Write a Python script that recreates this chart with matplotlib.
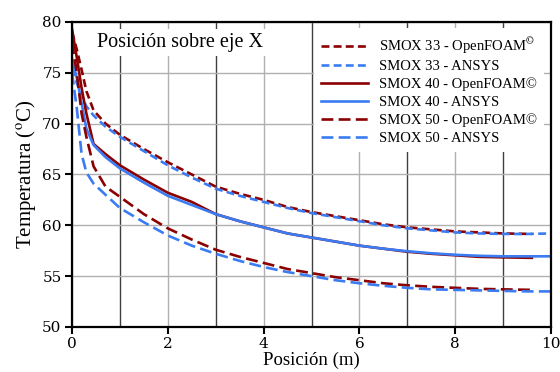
import numpy as np
import matplotlib
matplotlib.use("Agg")
import matplotlib.pyplot as plt
from matplotlib.ticker import MultipleLocator

# posiciones (m)
x_openfoam = [0, 0.1, 0.2, 0.3, 0.45, 0.7, 1.0, 1.5, 2.0, 2.5, 3.0, 3.5, 4.0, 4.5,
              5.0, 5.5, 6.0, 6.5, 7.0, 7.5, 8.0, 8.5, 9.0, 9.6]
x_ansys = [0, 0.1, 0.2, 0.3, 0.45, 0.7, 1.0, 1.5, 2.0, 2.5, 3.0, 3.5, 4.0, 4.5,
           5.0, 5.5, 6.0, 6.5, 7.0, 7.5, 8.0, 8.5, 9.0, 9.5, 10.0]

# temperaturas (C)
smox33_of = [79.0, 77.3, 75.3, 73.2, 71.3, 70.0, 68.9, 67.5, 66.2, 65.0, 63.8, 63.1,
             62.5, 61.8, 61.3, 60.9, 60.5, 60.1, 59.8, 59.6, 59.4, 59.3, 59.2, 59.15]
smox33_an = [75.4, 74.0, 72.7, 71.7, 70.8, 69.7, 68.7, 67.3, 65.9, 64.7, 63.6, 62.9,
             62.3, 61.7, 61.2, 60.8, 60.4, 60.0, 59.7, 59.5, 59.3, 59.2, 59.15, 59.15, 59.2]
smox40_of = [79.3, 76.5, 73.5, 71.0, 68.0, 67.0, 65.9, 64.5, 63.2, 62.3, 61.1, 60.4,
             59.8, 59.2, 58.8, 58.4, 58.0, 57.7, 57.4, 57.2, 57.05, 56.9, 56.85, 56.8]
smox40_an = [76.4, 74.5, 72.0, 69.5, 67.9, 66.7, 65.6, 64.2, 62.9, 62.0, 61.1, 60.4,
             59.8, 59.2, 58.8, 58.4, 58.0, 57.7, 57.45, 57.25, 57.1, 57.0, 56.95, 56.95, 56.95]
smox50_of = [78.0, 75.0, 71.0, 68.7, 65.8, 63.8, 62.8, 61.1, 59.7, 58.6, 57.6, 56.9,
             56.3, 55.7, 55.3, 54.9, 54.6, 54.3, 54.1, 53.95, 53.85, 53.75, 53.7, 53.65]
smox50_an = [75.0, 71.5, 67.0, 65.2, 64.1, 63.0, 61.7, 60.3, 59.0, 58.0, 57.2, 56.5,
             55.9, 55.4, 55.0, 54.6, 54.3, 54.05, 53.85, 53.7, 53.65, 53.6, 53.55, 53.5, 53.5]

labels = ["SMOX 33 - OpenFOAM$^{©}$", "SMOX 33 - ANSYS",
          "SMOX 40 - OpenFOAM©", "SMOX 40 - ANSYS",
          "SMOX 50 - OpenFOAM©", "SMOX 50 - ANSYS"]

red = "#8b0000"
blue = "#3b7cf2"

plt.rcParams["font.family"] = ["Liberation Serif", "DejaVu Serif"]
plt.rcParams["mathtext.fontset"] = "stix"

fig = plt.figure(figsize=(5.6, 3.72), dpi=100)
ax = fig.add_axes([0.1286, 0.121, 0.8554, 0.820])

lw = 1.9
ax.plot(x_openfoam, smox33_of, color=red, lw=lw, dashes=(3, 1.6), label=labels[0])
ax.plot(x_ansys, smox33_an, color=blue, lw=lw, dashes=(3, 1.6), label=labels[1])
ax.plot(x_openfoam, smox40_of, color=red, lw=lw, label=labels[2])
ax.plot(x_ansys, smox40_an, color=blue, lw=lw, label=labels[3])
ax.plot(x_openfoam, smox50_of, color=red, lw=lw, dashes=(4.5, 2), label=labels[4])
ax.plot(x_ansys, smox50_an, color=blue, lw=lw, dashes=(4.5, 2), label=labels[5])

ax.set_xlim(0, 10)
ax.set_ylim(50, 80)
ax.xaxis.set_major_locator(MultipleLocator(2))
ax.xaxis.set_minor_locator(MultipleLocator(1))
ax.yaxis.set_major_locator(MultipleLocator(5))
ax.grid(which="major", color="#b0b0b0", lw=1.0, zorder=0)
ax.grid(which="minor", axis="x", color="#404040", lw=1.0, zorder=0)
ax.set_axisbelow(True)

for s in ax.spines.values():
    s.set_linewidth(1.6)
ax.tick_params(which="major", direction="out", length=5, width=1.5, pad=2.5)
ax.tick_params(which="minor", length=0)
for t in ax.get_xticklabels() + ax.get_yticklabels():
    t.set_fontfamily("DejaVu Serif")
    t.set_fontsize(11)

ax.set_xlabel("Posición (m)", fontsize=13.5, labelpad=0)
ax.set_ylabel("Temperatura ($^{\\mathrm{o}}$C)", fontsize=15, labelpad=3)

ax.text(0.052, 0.932, "Posición sobre eje X", transform=ax.transAxes, fontsize=14.5,
        va="center", ha="left",
        bbox=dict(facecolor="white", edgecolor="none", pad=3))

leg = ax.legend(loc="upper right", bbox_to_anchor=(0.985, 0.98), borderaxespad=0,
                fontsize=10.5, frameon=True, fancybox=False, framealpha=1,
                edgecolor="none", handlelength=3.2, handletextpad=0.75,
                labelspacing=0.3, borderpad=0.5)

fig.savefig("out.png", dpi=100)
